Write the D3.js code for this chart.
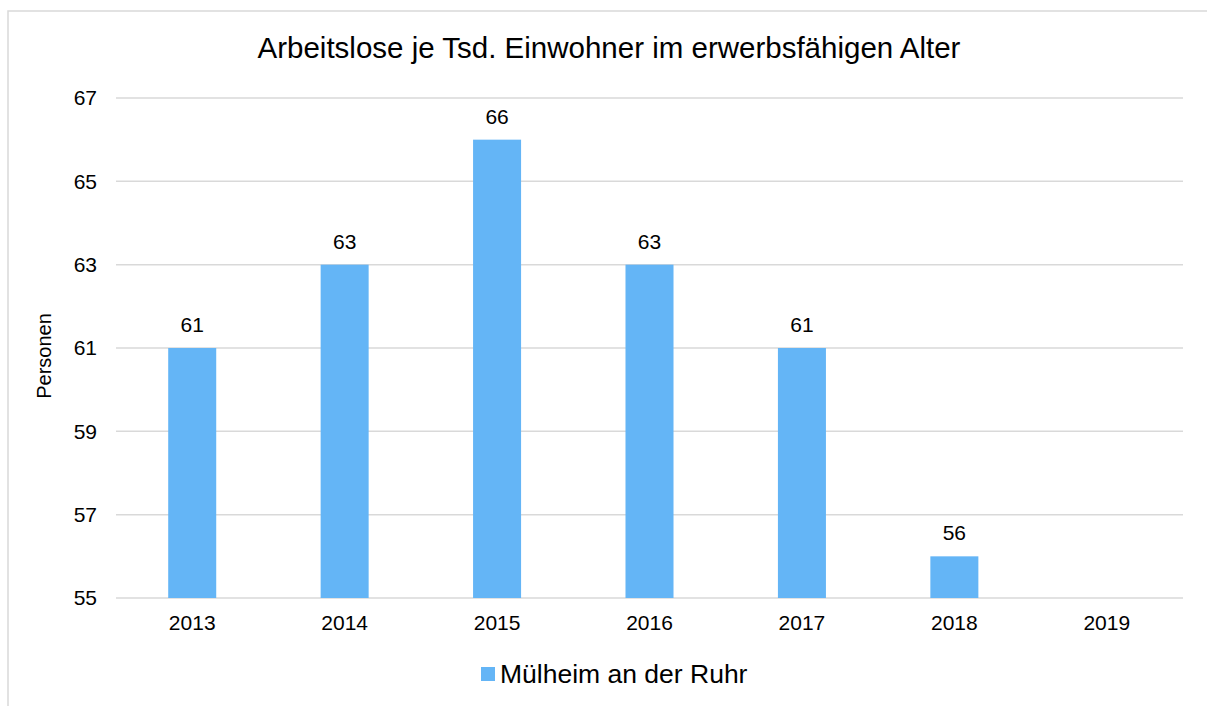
<!DOCTYPE html>
<html>
<head>
<meta charset="utf-8">
<script src="https://cdn.jsdelivr.net/npm/d3@7"></script>
<style>
  body { margin: 0; background: #fff; }
  text { font-family: "Liberation Sans", Arial, sans-serif; fill: #000; }
</style>
</head>
<body>
<svg width="1207" height="706"></svg>
<script>
var years = ["2013", "2014", "2015", "2016", "2017", "2018", "2019"];
var values = [61, 63, 66, 63, 61, 56, null];
var yTicks = [55, 57, 59, 61, 63, 65, 67];
var seriesName = "Mülheim an der Ruhr";
var title = "Arbeitslose je Tsd. Einwohner im erwerbsfähigen Alter";
var yTitle = "Personen";

var svg = d3.select("svg"),
    barColor = "#64b5f6",
    gridColor = "#d9d9d9";

// outer frame (runs off the right and bottom edge)
svg.append("rect")
    .attr("x", 8).attr("y", 11)
    .attr("width", 1220).attr("height", 720)
    .attr("fill", "none")
    .attr("stroke", gridColor)
    .attr("stroke-width", 1.5);

var x = d3.scaleBand()
    .domain(years)
    .range([116, 1183]);

var y = d3.scaleLinear()
    .domain([55, 67])
    .range([598, 98]);

var g = svg.append("g");

// gridlines
g.selectAll("line.grid")
    .data(yTicks)
    .enter().append("line")
    .attr("class", "grid")
    .attr("x1", x.range()[0]).attr("x2", x.range()[1])
    .attr("y1", function (d) { return y(d); })
    .attr("y2", function (d) { return y(d); })
    .attr("stroke", gridColor)
    .attr("stroke-width", 1.5);

// y tick labels
var yAxis = d3.axisLeft(y).tickValues(yTicks).tickSize(0).tickPadding(19);
var ya = svg.append("g").attr("transform", "translate(116,0)").call(yAxis);
ya.select(".domain").remove();
ya.selectAll("text")
    .attr("font-size", 21)
    .attr("font-family", "Liberation Sans, Arial, sans-serif")
    .attr("fill", "#000");

// x labels
var xAxis = d3.axisBottom(x).tickSize(0).tickPadding(17);
var xa = svg.append("g").attr("transform", "translate(0,598)").call(xAxis);
xa.select(".domain").remove();
xa.selectAll("text")
    .attr("font-size", 21)
    .attr("font-family", "Liberation Sans, Arial, sans-serif")
    .attr("fill", "#000");

var data = years.map(function (d, i) { return { year: d, value: values[i] }; })
    .filter(function (d) { return d.value != null; });

var barW = x.bandwidth() * 0.315;

g.selectAll("rect.bar")
    .data(data)
    .enter().append("rect")
    .attr("class", "bar")
    .attr("x", function (d) { return x(d.year) + x.bandwidth() / 2 - barW / 2; })
    .attr("y", function (d) { return y(d.value); })
    .attr("width", barW)
    .attr("height", function (d) { return y(55) - y(d.value); })
    .attr("fill", barColor);

g.selectAll("text.val")
    .data(data)
    .enter().append("text")
    .attr("class", "val")
    .attr("x", function (d) { return x(d.year) + x.bandwidth() / 2; })
    .attr("y", function (d) { return y(d.value) - 16; })
    .attr("text-anchor", "middle")
    .attr("font-size", 21)
    .text(function (d) { return d.value; });

// title
svg.append("text")
    .attr("x", 609).attr("y", 58)
    .attr("text-anchor", "middle")
    .attr("font-size", 29.5)
    .text(title);

// y title
svg.append("text")
    .attr("transform", "translate(51,356) rotate(-90)")
    .attr("text-anchor", "middle")
    .attr("font-size", 20)
    .text(yTitle);

// legend
var legend = svg.append("g");
legend.append("rect")
    .attr("x", 481).attr("y", 667)
    .attr("width", 14).attr("height", 14)
    .attr("fill", barColor);
legend.append("text")
    .attr("x", 500).attr("y", 683)
    .attr("font-size", 26.5)
    .text(seriesName);
</script>
</body>
</html>
